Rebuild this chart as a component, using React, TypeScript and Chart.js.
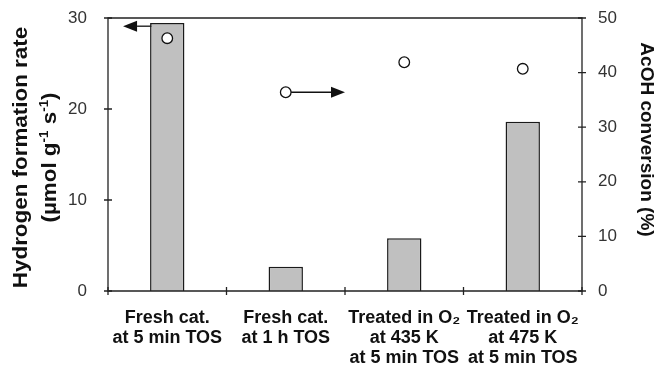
import React, { useEffect, useRef } from 'react';
import { Chart, registerables } from 'chart.js';

Chart.register(...registerables);

// ---- data ----
const categories: string[][] = [
  ['Fresh cat.', 'at 5 min TOS'],
  ['Fresh cat.', 'at 1 h TOS'],
  ['Treated in O₂', 'at 435 K', 'at 5 min TOS'],
  ['Treated in O₂', 'at 475 K', 'at 5 min TOS'],
];
const hydrogenRate = [29.45, 2.67, 5.8, 18.6];
const acohConversion = [46.3, 36.4, 41.9, 40.7];
const leftTickValues = [0, 10, 20, 30];
const rightTickValues = [0, 10, 20, 30, 40, 50];
// arrows (category index, value on their axis)
const arrowToLeft = { fromX: -0.1, toX: -0.373, value: 29.1, axis: 'y' };
const arrowToRight = { fromX: 1, toX: 1.5, value: 36.4, axis: 'y1' };

const FONT = "'Liberation Sans', Arial, Helvetica, sans-serif";

type Seg = { t: string; sup?: boolean };

function drawSegs(ctx: CanvasRenderingContext2D, segs: Seg[], size: number) {
  const main = `bold ${size}px ${FONT}`;
  const sup = `bold ${Math.round(size * 0.62)}px ${FONT}`;
  let total = 0;
  for (const s of segs) {
    ctx.font = s.sup ? sup : main;
    total += ctx.measureText(s.t).width;
  }
  let x = -total / 2;
  ctx.textAlign = 'left';
  ctx.textBaseline = 'alphabetic';
  for (const s of segs) {
    ctx.font = s.sup ? sup : main;
    ctx.fillText(s.t, x, s.sup ? -size * 0.4 : 0);
    x += ctx.measureText(s.t).width;
  }
}

const decorPlugin = {
  id: 'decor',
  beforeDatasetsDraw(chart: any) {
    const ctx: CanvasRenderingContext2D = chart.ctx;
    const xs = chart.scales.x;
    const drawArrow = (a: any) => {
      const ys = chart.scales[a.axis];
      const y = ys.getPixelForValue(a.value);
      const x0 = xs.getPixelForValue(a.fromX);
      const x1 = xs.getPixelForValue(a.toX);
      const dir = Math.sign(x1 - x0);
      const headLen = 14;
      const headHalf = 5.5;
      ctx.save();
      ctx.strokeStyle = '#111';
      ctx.fillStyle = '#111';
      ctx.lineWidth = 1.3;
      ctx.beginPath();
      ctx.moveTo(x0, y);
      ctx.lineTo(x1 - dir * headLen, y);
      ctx.stroke();
      ctx.beginPath();
      ctx.moveTo(x1, y);
      ctx.lineTo(x1 - dir * headLen, y - headHalf);
      ctx.lineTo(x1 - dir * headLen, y + headHalf);
      ctx.closePath();
      ctx.fill();
      ctx.restore();
    };
    drawArrow(arrowToLeft);
    drawArrow(arrowToRight);
  },
  afterDatasetsDraw(chart: any) {
    const ctx: CanvasRenderingContext2D = chart.ctx;
    const { left, right, top, bottom } = chart.chartArea;
    const xs = chart.scales.x;
    const yl = chart.scales.y;
    const yr = chart.scales.y1;
    ctx.save();
    ctx.strokeStyle = '#222';
    ctx.lineWidth = 1.3;
    ctx.beginPath();
    ctx.rect(left, top, right - left, bottom - top);
    ctx.stroke();
    ctx.beginPath();
    for (const v of leftTickValues) {
      const y = yl.getPixelForValue(v);
      ctx.moveTo(left - 4, y);
      ctx.lineTo(left + 4, y);
    }
    for (const v of rightTickValues) {
      const y = yr.getPixelForValue(v);
      ctx.moveTo(right - 4, y);
      ctx.lineTo(right + 4, y);
    }
    for (let i = 0; i <= categories.length; i++) {
      const x = xs.getPixelForValue(i - 0.5);
      ctx.moveTo(x, bottom - 4);
      ctx.lineTo(x, bottom + 4);
    }
    ctx.stroke();

    // axis titles
    ctx.fillStyle = '#111';
    const mid = (top + bottom) / 2;
    ctx.save();
    ctx.translate(27, mid + 3);
    ctx.rotate(-Math.PI / 2);
    ctx.scale(1.12, 1);
    drawSegs(ctx, [{ t: 'Hydrogen formation rate' }], 20);
    ctx.restore();
    ctx.save();
    ctx.translate(56, mid + 3);
    ctx.rotate(-Math.PI / 2);
    ctx.scale(1.12, 1);
    drawSegs(
      ctx,
      [{ t: '(µmol g' }, { t: '-1', sup: true }, { t: ' s' }, { t: '-1', sup: true }, { t: ')' }],
      20
    );
    ctx.restore();
    ctx.save();
    ctx.translate(641, mid - 15);
    ctx.rotate(Math.PI / 2);
    drawSegs(ctx, [{ t: 'AcOH conversion (%)' }], 19);
    ctx.restore();
    ctx.restore();
  },
};

const zeroPad = (s: any) => {
  s.paddingTop = 0;
  s.paddingBottom = 0;
  s.paddingLeft = 0;
  s.paddingRight = 0;
};

export default function App() {
  const ref = useRef<HTMLCanvasElement | null>(null);
  useEffect(() => {
    if (!ref.current) return;
    const chart = new Chart(ref.current, {
      type: 'bar',
      data: {
        labels: categories,
        datasets: [
          {
            type: 'bar',
            data: hydrogenRate,
            yAxisID: 'y',
            backgroundColor: '#c0c0c0',
            borderColor: '#1a1a1a',
            borderWidth: 1.5,
            barPercentage: 0.29,
            categoryPercentage: 1,
            order: 2,
          } as any,
          {
            type: 'line',
            data: acohConversion,
            yAxisID: 'y1',
            showLine: false,
            pointStyle: 'circle',
            pointRadius: 5.3,
            pointBackgroundColor: '#ffffff',
            pointBorderColor: '#111',
            pointBorderWidth: 1.3,
            order: 1,
          } as any,
        ],
      },
      options: {
        responsive: false,
        animation: false,
        layout: { padding: { top: 18, left: 0, right: 0, bottom: 0 } },
        plugins: { legend: { display: false }, tooltip: { enabled: false } },
        scales: {
          x: {
            type: 'category',
            offset: true,
            grid: { display: false, drawTicks: false },
            border: { display: false },
            ticks: {
              color: '#111',
              font: { family: FONT, size: 18, weight: 'bold', lineHeight: 20 / 18 },
              padding: 17,
              maxRotation: 0,
              minRotation: 0,
              autoSkip: false,
            },
            afterFit: (s: any) => {
              s.height = 77;
              zeroPad(s);
            },
          },
          y: {
            position: 'left',
            min: 0,
            max: 30,
            afterBuildTicks: (s: any) => {
              s.ticks = leftTickValues.map((v) => ({ value: v }));
            },
            grid: { display: false, drawTicks: false },
            border: { display: false },
            ticks: { color: '#333', font: { family: FONT, size: 17 }, padding: 21 },
            afterFit: (s: any) => {
              s.width = 108;
              zeroPad(s);
            },
          },
          y1: {
            position: 'right',
            min: 0,
            max: 50,
            afterBuildTicks: (s: any) => {
              s.ticks = rightTickValues.map((v) => ({ value: v }));
            },
            grid: { display: false, drawTicks: false },
            border: { display: false },
            ticks: { color: '#333', font: { family: FONT, size: 17 }, padding: 16 },
            afterFit: (s: any) => {
              s.width = 79;
              zeroPad(s);
            },
          },
        },
      } as any,
      plugins: [decorPlugin],
    });
    return () => chart.destroy();
  }, []);
  return (
    <div style={{ position: 'absolute', left: 0, top: 0, width: 661, height: 368, background: '#fff' }}>
      <canvas ref={ref} width={661} height={368} style={{ display: 'block' }} />
    </div>
  );
}
